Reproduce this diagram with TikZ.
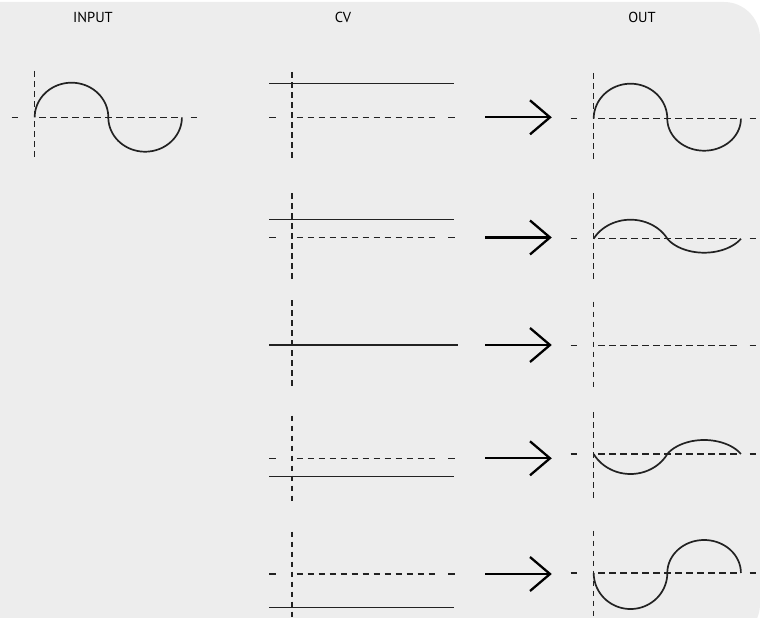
\documentclass[tikz,border=0pt]{standalone}
\usepackage{fontspec}
\newfontfamily\labfont{PT Sans}
\definecolor{bgc}{HTML}{EDEDED}
\definecolor{linec}{HTML}{222222}
\newcommand\axesat[4]{%
  \draw[vdsh] (#1,#3) -- (#1,#4);
  \draw[dsh] ({#1-23},#2) -- ({#1-13},#2);
  \draw[dsh] ({#1+4.5},#2) -- ({#1+147},#2);
  \draw[dsh] ({#1+156},#2) -- ({#1+166},#2);
}
\newcommand\waveat[5]{%
  \draw[wave] plot[domain=0:180,samples=60,smooth]
      ({#1 + 36.8*(#5*(1-cos(\x)) + (1-#5)*\x/90)}, {#2 - #3*sin(\x)})
    -- plot[domain=0:180,samples=60,smooth]
      ({#1 + 73.6 + 36.8*(#5*(1-cos(\x)) + (1-#5)*\x/90)}, {#2 + #4*sin(\x)});
}
\newcommand\arrowat[2]{%
  \coordinate (a#2s) at (485,#1);
  \coordinate (a#2e) at (550,#1);
  \draw[arr] (a#2s) -- (a#2e);
  \draw[arr, line join=miter] (a#2e) ++(-20,-17) -- (a#2e) -- ++(-20,17);
}
\begin{document}
\begin{tikzpicture}[x=1pt,y=-1pt,
  dsh/.style={draw=linec, line width=1.3pt, dash pattern=on 6.5pt off 4.5pt},
  vdsh/.style={draw=linec, line width=1.3pt, dash pattern=on 5.5pt off 4.5pt},
  solidln/.style={draw=linec, line width=1.3pt},
  wave/.style={draw=linec, line width=1.7pt},
  arr/.style={draw=black, line width=2.3pt},
  lab/.style={font=\labfont\fontsize{14.5}{16}\selectfont, text=black, inner sep=0pt}]
\useasboundingbox (0,0) rectangle (760,618);
\clip (0,0) rectangle (760,618);
\fill[bgc, rounded corners=36pt] (-60,2) rectangle (760,640);

% labels
\node[lab] (tin) at (93,17) {INPUT};
\node[lab] (tcv) at (343,17) {CV};
\node[lab] (tout) at (642,17) {OUT};

% input
\axesat{34.7}{117.3}{71}{160}
\waveat{34.7}{117.3}{34.6}{34.4}{1}

% CV column
\axesat{292}{117.3}{72}{159}
\draw[solidln] (269,83.7) -- (453.7,83.7);
\axesat{292}{237.5}{193}{280}
\draw[solidln] (269,219.3) -- (453.7,219.3);
\axesat{292}{345}{300}{387}
\draw[solidln] (269,345) -- (458,345);
\axesat{292}{458.3}{415.7}{503}
\draw[solidln] (269,476.3) -- (453.7,476.3);
\axesat{292}{574}{531.7}{625}
\draw[solidln] (269,607.3) -- (453.7,607.3);

% arrows
\arrowat{117.3}{1}
\arrowat{237.5}{2}
\arrowat{345}{3}
\arrowat{458.3}{4}
\arrowat{574}{5}

% output column
\axesat{593.7}{118.7}{73}{160.7}
\waveat{593.7}{118.7}{35}{32}{1}
\axesat{593.7}{238.7}{193}{280}
\waveat{593.7}{238.7}{19}{14}{0.5}
\axesat{593.7}{345.7}{301.7}{388}
\axesat{593.7}{454}{412}{499}
\waveat{593.7}{454}{-20}{-14}{0.5}
\axesat{593.7}{573}{530.7}{625}
\waveat{593.7}{573}{-36}{-33}{1}
\end{tikzpicture}
\end{document}
